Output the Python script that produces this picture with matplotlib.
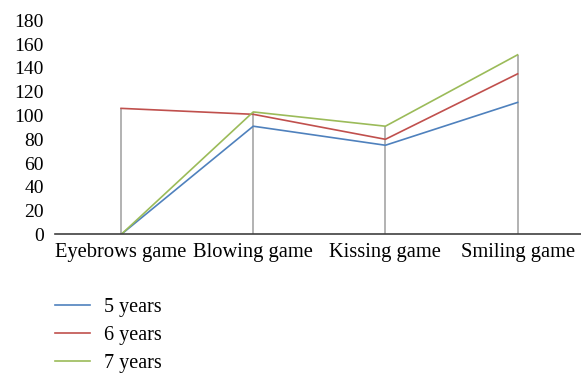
import numpy as np
import matplotlib.pyplot as plt

plt.rcParams['font.family'] = ['Liberation Serif', 'DejaVu Serif']
plt.rcParams['font.size'] = 14

games = ['Eyebrows game', 'Blowing game', 'Kissing game', 'Smiling game']
years_5 = [0, 91, 75, 111]
years_6 = [106, 101, 80, 135]
years_7 = [0, 103, 91, 151]

series = [('5 years', years_5, '#4F81BD'),
          ('6 years', years_6, '#C0504D'),
          ('7 years', years_7, '#9BBB59')]

fig = plt.figure(figsize=(5.81, 3.74), dpi=100)
ax = fig.add_axes([55 / 581, 1 - 234.5 / 374, 526 / 581, 214.2 / 374])

x = np.arange(len(games))

# drop lines from the highest point down to the axis
tops = np.max([years_5, years_6, years_7], axis=0)
ax.vlines(x, 0, tops, color='#A6A6A6', lw=1.2, zorder=1)

for name, vals, col in series:
    ax.plot(x, vals, color=col, lw=1.2, label=name, zorder=2)

ax.set_xlim(-0.5, 3.48)
ax.set_ylim(0, 180)
ax.set_yticks(range(0, 181, 20))
ax.set_xticks(x)
ax.set_xticklabels(games, fontsize=14.8)
ax.tick_params(length=0)
ax.tick_params(axis='y', pad=8)
ax.tick_params(axis='x', pad=6)
for s in ['top', 'right', 'left']:
    ax.spines[s].set_visible(False)
ax.spines['bottom'].set_color('#404040')
ax.spines['bottom'].set_linewidth(1.2)

handles, labels = ax.get_legend_handles_labels()
fig.legend(handles, labels, loc='upper left', bbox_to_anchor=(55 / 581, 1 - 298 / 374),
           frameon=False, borderpad=0, borderaxespad=0, handlelength=1.75,
           handletextpad=0.7, labelspacing=0.45, fontsize=14.5)

fig.savefig('out.png', dpi=100)
